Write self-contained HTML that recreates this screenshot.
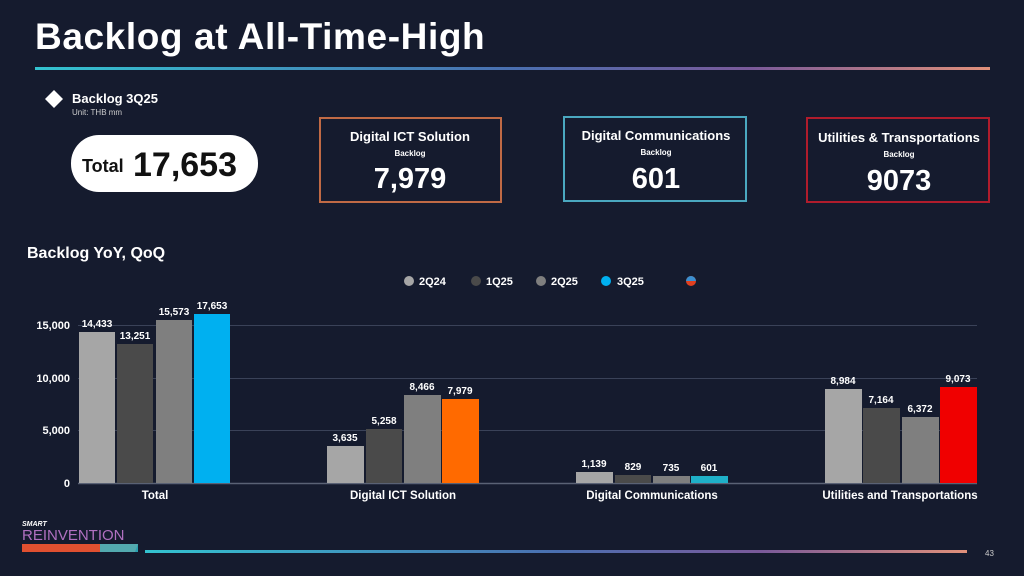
<!DOCTYPE html>
<html><head><meta charset="utf-8"><style>
html,body{margin:0;padding:0;background:#151b2e;}
svg{display:block}
text{font-family:"Liberation Sans",sans-serif;font-weight:bold;fill:#fff}
</style></head><body>
<svg width="1024" height="576" viewBox="0 0 1024 576" xmlns="http://www.w3.org/2000/svg">
<defs>
<linearGradient id="g1" x1="0" x2="1"><stop offset="0" stop-color="#33c3d0"/><stop offset="0.5" stop-color="#4a6fb0"/><stop offset="0.75" stop-color="#7a5a9a"/><stop offset="1" stop-color="#e0907a"/></linearGradient>
</defs>
<rect width="1024" height="576" fill="#151b2e"/>
<text x="35" y="49" font-size="37" letter-spacing="0.6">Backlog at All-Time-High</text>
<rect x="35" y="67" width="955" height="3" fill="url(#g1)"/>
<polygon points="54,90 63,99 54,108 45,99" fill="#fff"/>
<text x="72" y="103" font-size="13">Backlog 3Q25</text>
<text x="72" y="115" font-size="8" style="font-weight:normal;fill:#ccc">Unit: THB mm</text>
<rect x="71" y="135" width="187" height="57" rx="28" fill="#fff"/>
<text x="82" y="172" font-size="18" style="fill:#111">Total</text>
<text x="133" y="176" font-size="34" style="fill:#111">17,653</text>
<rect x="320" y="118" width="181" height="84" fill="none" stroke="#c06a45" stroke-width="2"/>
<text x="410" y="141" font-size="13" text-anchor="middle">Digital ICT Solution</text>
<text x="410" y="156" font-size="8" text-anchor="middle">Backlog</text>
<text x="410" y="188" font-size="29" text-anchor="middle">7,979</text>
<rect x="564" y="117" width="182" height="84" fill="none" stroke="#4aa8c0" stroke-width="2"/>
<text x="656" y="140" font-size="13" text-anchor="middle">Digital Communications</text>
<text x="656" y="155" font-size="8" text-anchor="middle">Backlog</text>
<text x="656" y="188" font-size="29" text-anchor="middle">601</text>
<rect x="807" y="118" width="182" height="84" fill="none" stroke="#b01c2c" stroke-width="2"/>
<text x="899" y="142" font-size="13" text-anchor="middle">Utilities &amp; Transportations</text>
<text x="899" y="157" font-size="8" text-anchor="middle">Backlog</text>
<text x="899" y="190" font-size="29" text-anchor="middle">9073</text>
<text x="27" y="258" font-size="16">Backlog YoY, QoQ</text>
<circle cx="409" cy="281" r="5" fill="#a6a6a6"/><text x="419" y="285" font-size="11">2Q24</text>
<circle cx="476" cy="281" r="5" fill="#4a4a4a"/><text x="486" y="285" font-size="11">1Q25</text>
<circle cx="541" cy="281" r="5" fill="#7f7f7f"/><text x="551" y="285" font-size="11">2Q25</text>
<circle cx="606" cy="281" r="5" fill="#00b0f0"/><text x="617" y="285" font-size="11">3Q25</text>
<circle cx="691" cy="281" r="5" fill="#e04020"/><path d="M691,281 L691,276 A5,5 0 0 1 696,281 Z" fill="#3a8fd0"/><path d="M691,281 L686,281 A5,5 0 0 1 691,276 Z" fill="#3a8fd0"/>
<g stroke="#3a4258" stroke-width="1">
<line x1="78" y1="325.5" x2="977" y2="325.5"/><line x1="78" y1="378.5" x2="977" y2="378.5"/><line x1="78" y1="430.5" x2="977" y2="430.5"/>
</g>
<line x1="78" y1="483.5" x2="977" y2="483.5" stroke="#5a6275" stroke-width="1.5"/>
<g font-size="11" text-anchor="end">
<text x="70" y="329">15,000</text><text x="70" y="382">10,000</text><text x="70" y="434">5,000</text><text x="70" y="487">0</text>
</g>
<g>
<rect x="79" y="332" width="36" height="151" fill="#a6a6a6"/>
<rect x="117" y="344" width="36" height="139" fill="#4a4a4a"/>
<rect x="156" y="320" width="36" height="163" fill="#7f7f7f"/>
<rect x="194" y="314" width="36" height="169" fill="#00b0f0"/>
<rect x="327" y="446" width="37" height="37" fill="#a6a6a6"/>
<rect x="366" y="429" width="36" height="54" fill="#4a4a4a"/>
<rect x="404" y="395" width="37" height="88" fill="#7f7f7f"/>
<rect x="442" y="399" width="37" height="84" fill="#ff6a00"/>
<rect x="576" y="472" width="37" height="11" fill="#a6a6a6"/>
<rect x="615" y="475" width="36" height="8" fill="#4a4a4a"/>
<rect x="653" y="476" width="37" height="7" fill="#7f7f7f"/>
<rect x="691" y="476" width="37" height="7" fill="#1fb0c8"/>
<rect x="825" y="389" width="37" height="94" fill="#a6a6a6"/>
<rect x="863" y="408" width="37" height="75" fill="#4a4a4a"/>
<rect x="902" y="417" width="37" height="66" fill="#7f7f7f"/>
<rect x="940" y="387" width="37" height="96" fill="#f00000"/>
</g>
<g font-size="10" text-anchor="middle">
<text x="97" y="327">14,433</text><text x="135" y="339">13,251</text><text x="174" y="315">15,573</text><text x="212" y="309">17,653</text>
<text x="345" y="441">3,635</text><text x="384" y="424">5,258</text><text x="422" y="390">8,466</text><text x="460" y="394">7,979</text>
<text x="594" y="467">1,139</text><text x="633" y="470">829</text><text x="671" y="471">735</text><text x="709" y="471">601</text>
<text x="843" y="384">8,984</text><text x="881" y="403">7,164</text><text x="920" y="412">6,372</text><text x="958" y="382">9,073</text>
</g>
<g font-size="11.5" text-anchor="middle">
<text x="155" y="499">Total</text><text x="403" y="499">Digital ICT Solution</text><text x="652" y="499">Digital Communications</text><text x="900" y="499">Utilities and Transportations</text>
</g>
<text x="22" y="526" font-size="7" font-style="italic">SMART</text>
<text x="22" y="540" font-size="15" style="fill:#b070c0;font-weight:normal">REINVENTION</text>
<polygon points="22,544 138,544 135,552 22,552" fill="#e05030"/>
<rect x="100" y="544" width="38" height="8" fill="#30c0d0" opacity="0.8"/>
<rect x="145" y="550" width="822" height="3" fill="url(#g1)"/>
<text x="985" y="556" font-size="8" style="font-weight:normal;fill:#ccc">43</text>
</svg>
</body></html>
